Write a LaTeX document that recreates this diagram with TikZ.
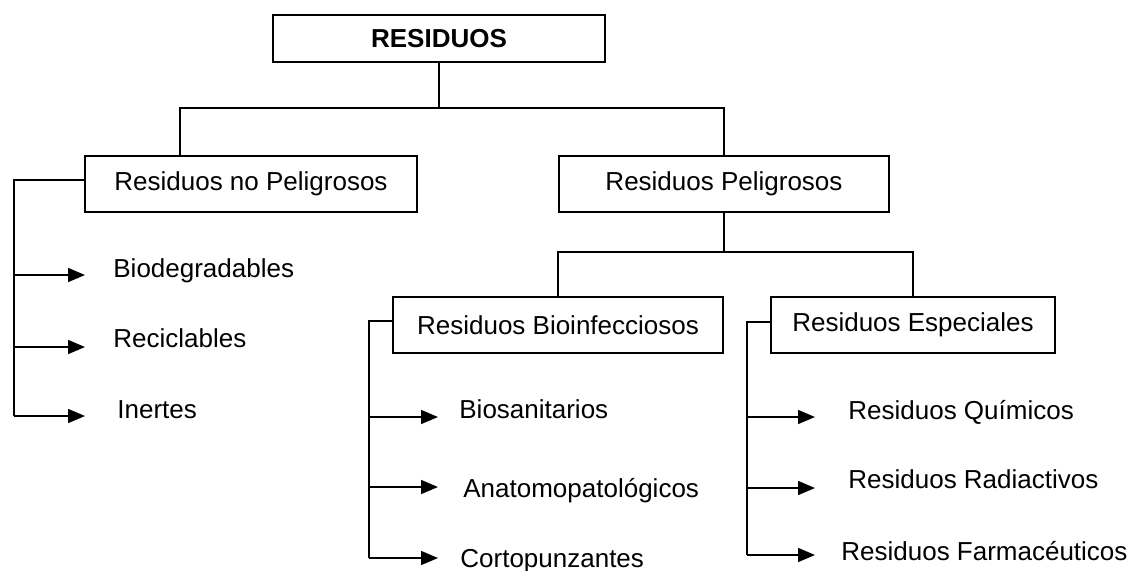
\documentclass[tikz,border=0pt]{standalone}
\usepackage{fontspec}
\setmainfont{Liberation Sans}
\usetikzlibrary{arrows.meta,calc}
\begin{document}
\begin{tikzpicture}[x=0.5pt,y=-0.5pt,
  txt/.style={font=\fontsize{13}{15}\selectfont},
  box/.style={draw,line width=0.75pt,minimum height=28pt,inner sep=0pt,txt},
  leaf/.style={anchor=base west,inner sep=0pt,txt},
  conn/.style={line width=0.8pt},
  arr/.style={conn,-{Triangle[length=8.5pt,width=7pt]}}]
\useasboundingbox (0,0) rectangle (1132,570);

% boxes
\node[box,minimum width=166pt,minimum height=23.5pt,font=\fontsize{13}{15}\selectfont\bfseries] (root) at (439,38.5) {RESIDUOS};
\node[box,minimum width=166pt] (nopel) at (251,184) {Residuos no Peligrosos};
\node[box,minimum width=165pt] (pel) at (724,184) {Residuos Peligrosos};
\node[box,minimum width=165pt] (bio) at (558,325) {Residuos Bioinfecciosos};
\node[box,minimum width=142pt] (esp) at (913,325) {Residuos Especiales};

% tree connectors
\coordinate (lk) at (180,108);
\draw[conn] (root.south) -- (root.south |- lk);
\draw[conn] (lk |- nopel.north) -- (lk) -| (pel.north);
\coordinate (pk) at (724,252);
\draw[conn] (pel.south) -- (pel.south |- pk);
\draw[conn] (bio.north) |- (pk) -| (esp.north);

% leaves: no peligrosos
\node[leaf] (biod) at (113,277) {Biodegradables};
\node[leaf] (reci) at (113,347) {Reciclables};
\node[leaf] (iner) at (117,418) {Inertes};
\coordinate (nv) at (14,0);
\coordinate (a1) at (85,275);
\coordinate (a2) at (85,347);
\coordinate (a3) at (85,416);
\draw[conn] ([yshift=2pt]nopel.west) -| (nv |- a3);
\draw[arr] (nv |- a1) -- (a1);
\draw[arr] (nv |- a2) -- (a2);
\draw[arr] (nv |- a3) -- (a3);

% leaves: bioinfecciosos
\node[leaf] (bios) at (459,418) {Biosanitarios};
\node[leaf] (anat) at (463,497) {Anatomopatológicos};
\node[leaf] (cort) at (460,567) {Cortopunzantes};
\coordinate (bv) at (369,0);
\coordinate (b1) at (438,417);
\coordinate (b2) at (438,487);
\coordinate (b3) at (438,558);
\draw[conn] ([yshift=2pt]bio.west) -| (bv |- b3);
\draw[arr] (bv |- b1) -- (b1);
\draw[arr] (bv |- b2) -- (b2);
\draw[arr] (bv |- b3) -- (b3);

% leaves: especiales
\node[leaf] (quim) at (848,419) {Residuos Químicos};
\node[leaf] (radi) at (848,488) {Residuos Radiactivos};
\node[leaf] (farm) at (841,560) {Residuos Farmacéuticos};
\coordinate (ev) at (747,0);
\coordinate (e1) at (815,417);
\coordinate (e2) at (815,488);
\coordinate (e3) at (815,555);
\draw[conn] ([yshift=1.5pt]esp.west) -| (ev |- e3);
\draw[arr] (ev |- e1) -- (e1);
\draw[arr] (ev |- e2) -- (e2);
\draw[arr] (ev |- e3) -- (e3);
\end{tikzpicture}
\end{document}
